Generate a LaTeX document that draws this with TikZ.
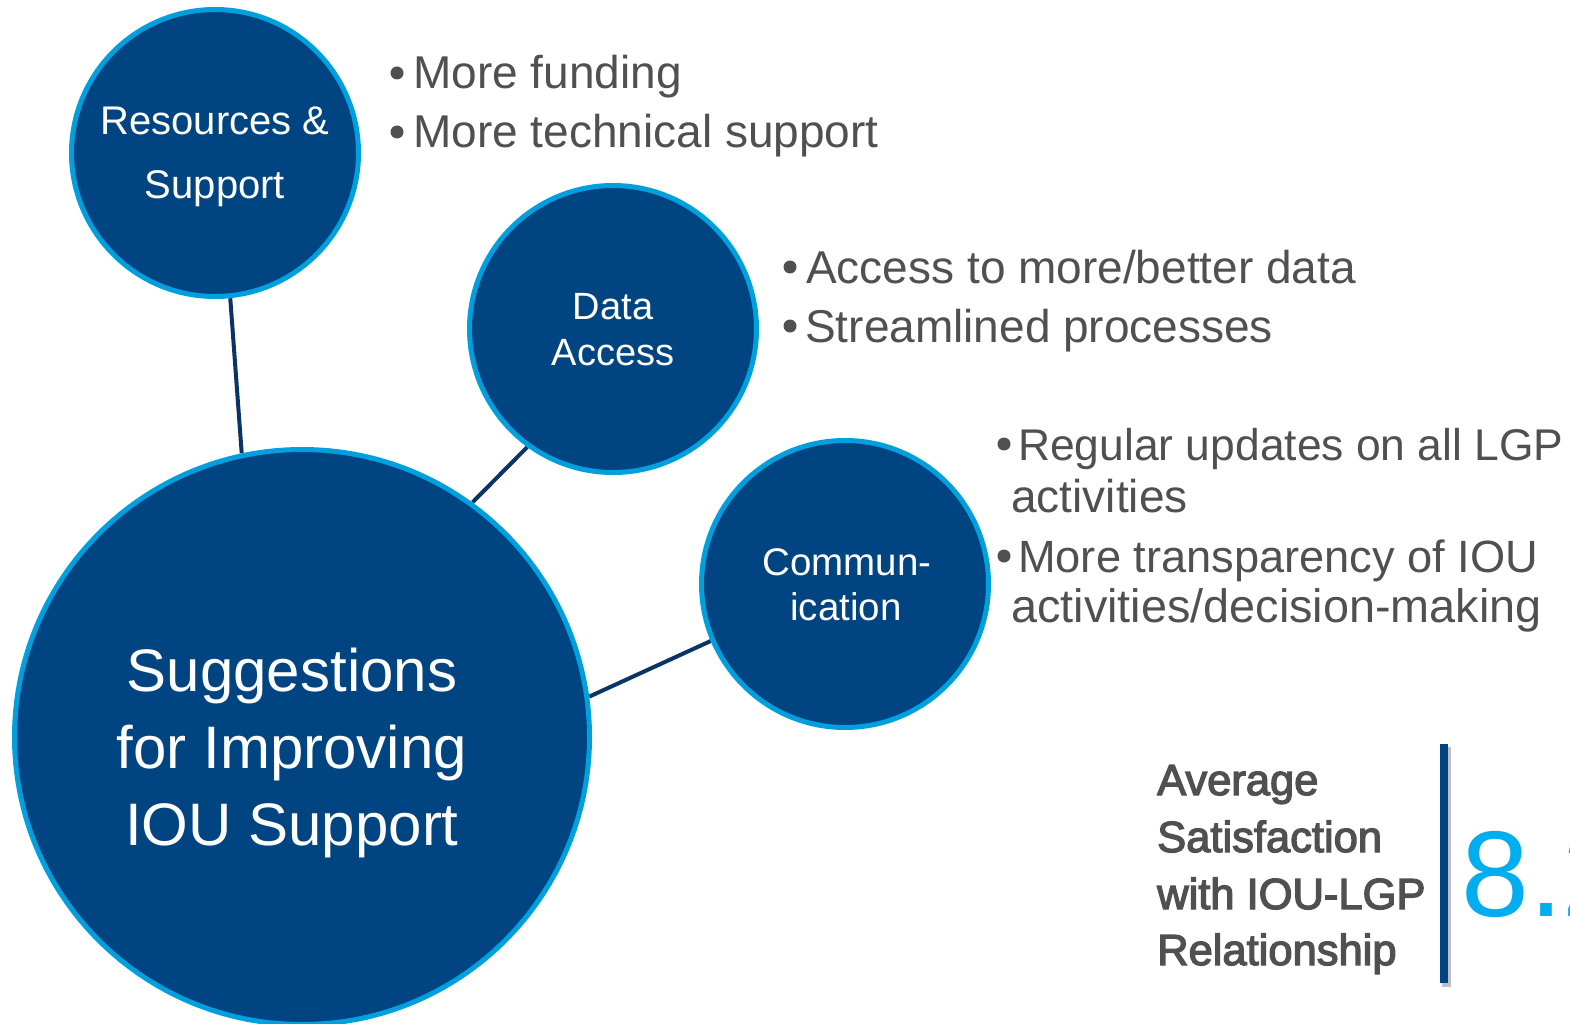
\documentclass[tikz,border=0pt]{standalone}
\usepackage{fontspec}
\setmainfont{Liberation Sans}
\newfontfamily\medfont[FakeBold=3]{Liberation Sans}
\usetikzlibrary{backgrounds}
\definecolor{navy}{RGB}{0,69,129}
\definecolor{ringblue}{RGB}{0,160,223}
\definecolor{connavy}{RGB}{10,52,102}
\definecolor{tgray}{RGB}{80,80,80}
\definecolor{bignum}{RGB}{0,174,239}
\tikzset{
  bub/.style={circle, fill=navy, draw=ringblue, line width=5pt, inner sep=0pt},
  conn/.style={draw=connavy, line width=4pt},
  intext/.style={anchor=base, inner sep=0pt, text=white},
  bultext/.style={anchor=base west, inner sep=0pt, text=tgray, font=\fontsize{46}{50}\selectfont},
  bdot/.style={circle, fill=tgray, minimum size=13pt, inner sep=0pt},
  sattext/.style={anchor=base west, inner sep=0pt, text=tgray, font=\medfont\fontsize{43.5}{46}\selectfont},
}
\begin{document}
\begin{tikzpicture}[x=1pt, y=-1pt]
\useasboundingbox (0,0) rectangle (1570,1024);
\clip (0,0) rectangle (1570,1024);

% circles
\node[bub, minimum size=287pt] (res) at (215,153) {};
\node[bub, minimum size=287pt] (data) at (613,329) {};
\node[bub, minimum size=287pt] (comm) at (845,584) {};
\node[bub, minimum size=575pt] (big) at (302,737) {};

% connectors
\begin{scope}[on background layer]
\fill[white] (0,0) rectangle (1570,1024);
\draw[conn] (res.-84) -- (big.102);
\draw[conn] (data.234) -- (big.54);
\draw[conn] (comm.203) -- (big.8.5);
\end{scope}

% circle labels
\node[intext, font=\fontsize{40}{44}\selectfont] (resA) at (215,135) {Resources \&};
\node[intext, font=\fontsize{40}{44}\selectfont] (resB) at (215,199) {Support};
\node[intext, font=\fontsize{38}{42}\selectfont] (dataA) at (613,319) {Data};
\node[intext, font=\fontsize{38}{42}\selectfont] (dataB) at (613,365) {Access};
\node[intext, font=\fontsize{38.5}{42}\selectfont] (commA) at (847,575) {Commun-};
\node[intext, font=\fontsize{38.5}{42}\selectfont] (commB) at (846,620) {ication};
\node[intext, font=\fontsize{60}{66}\selectfont] (bigA) at (292,691) {Suggestions};
\node[intext, font=\fontsize{60}{66}\selectfont] (bigB) at (292,768) {for Improving};
\node[intext, font=\fontsize{60}{66}\selectfont] (bigC) at (292,845) {IOU Support};

% bullet list 1
\node[bdot] (d1) at (397,73) {};
\node[bultext] (t1) at (413,89) {More funding};
\node[bdot] (d2) at (397,132) {};
\node[bultext] (t2) at (413,148) {More technical support};

% bullet list 2
\node[bdot] (d3) at (790,267) {};
\node[bultext] (t3) at (806,283) {Access to more/better data};
\node[bdot] (d4) at (790,326) {};
\node[bultext] (t4) at (805,342) {Streamlined processes};

% bullet list 3
\node[bdot] (d5) at (1004,444) {};
\node[bultext, font=\fontsize{44.4}{50}\selectfont] (t5) at (1018,460) {Regular updates on all LGP};
\node[bultext] (t5b) at (1011,512) {activities};
\node[bdot] (d6) at (1004,556) {};
\node[bultext, font=\fontsize{45.2}{50}\selectfont] (t6) at (1018,572) {More transparency of IOU};
\node[bultext, font=\fontsize{46.8}{50}\selectfont] (t6b) at (1011,622) {activities/decision-making};

% satisfaction block
\node[sattext] (s1) at (1157,795) {Average};
\node[sattext] (s2) at (1157,852) {Satisfaction};
\node[sattext] (s3) at (1157,909) {with IOU-LGP};
\node[sattext] (s4) at (1157,965) {Relationship};

\fill[black!25] (1442,747) rectangle (1451,987);
\fill[navy] (1440,744) rectangle (1448,983);

\node[anchor=base west, inner sep=0pt, text=bignum, font=\fontsize{122}{130}\selectfont] (score) at (1461,916) {8.2};
\end{tikzpicture}
\end{document}
